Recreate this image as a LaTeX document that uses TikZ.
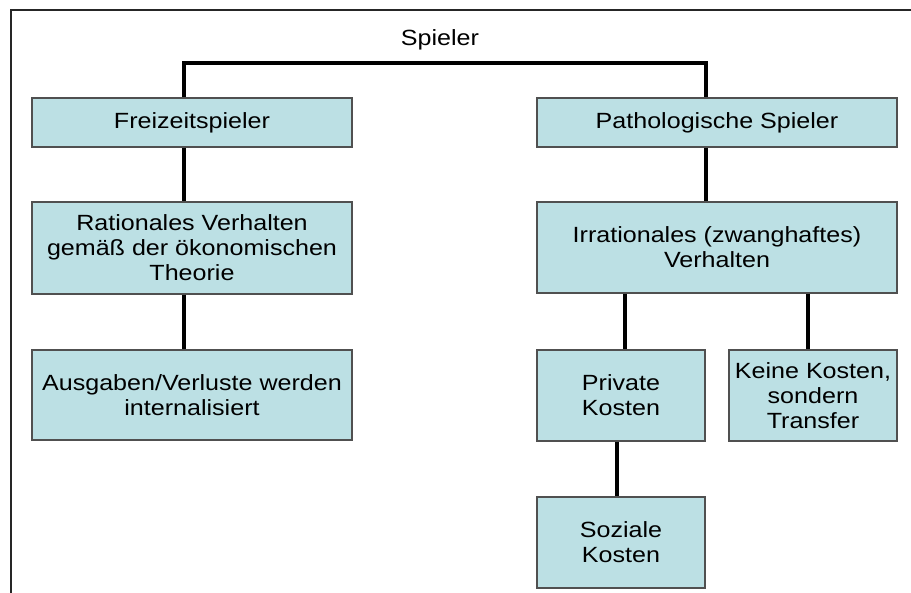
\documentclass[tikz,border=0pt]{standalone}
\usepackage{fontspec}
\setmainfont[FakeStretch=1.14]{Liberation Sans}
\definecolor{boxfill}{HTML}{BCE0E4}
\definecolor{boxline}{HTML}{505050}
\begin{document}
\begin{tikzpicture}[x=1pt,y=1pt,
  box/.style={draw=boxline,line width=1.5pt,fill=boxfill,inner sep=0pt,align=center,
    font=\fontsize{22}{25}\selectfont},
  conn/.style={line width=4pt,black,line join=miter},
  frame/.style={line width=2pt,black!85}]
\useasboundingbox (0,0) rectangle (911,-593);
\draw[frame] (11,-593) -- (11,-10) -- (911,-10);
\node[font=\fontsize{22}{25}\selectfont] (sp) at (440,-40) {Spieler};
\node[box,minimum width=320,minimum height=49] (F) at (192,-122.5) {Freizeitspieler};
\node[box,minimum width=360,minimum height=49] (P) at (717,-122.5) {Pathologische Spieler};
\node[box,minimum width=320,minimum height=92] (R) at (192,-248) {Rationales Verhalten\\gemäß der ökonomischen\\Theorie};
\node[box,minimum width=320,minimum height=90] (A) at (192,-395) {Ausgaben/Verluste werden\\internalisiert};
\node[box,minimum width=360,minimum height=91] (I) at (717,-247.5) {Irrationales (zwanghaftes)\\Verhalten};
\node[box,minimum width=168,minimum height=91] (PK) at (621,-395.5) {Private\\Kosten};
\node[box,minimum width=168,minimum height=91] (K) at (813,-395.5) {Keine Kosten,\\sondern\\Transfer};
\node[box,minimum width=168,minimum height=91] (S) at (621,-542.5) {Soziale\\Kosten};
\coordinate (bl) at (184,-63);
\coordinate (br) at (706,-63);
\draw[conn] (bl |- F.north) -- (bl) -- (br) -- (br |- P.north);
\draw[conn] (184,0 |- F.south) -- (184,0 |- R.north);
\draw[conn] (184,0 |- R.south) -- (184,0 |- A.north);
\draw[conn] (706,0 |- P.south) -- (706,0 |- I.north);
\draw[conn] (625,0 |- I.south) -- (625,0 |- PK.north);
\draw[conn] (808,0 |- I.south) -- (808,0 |- K.north);
\draw[conn] (617,0 |- PK.south) -- (617,0 |- S.north);
\end{tikzpicture}
\end{document}
